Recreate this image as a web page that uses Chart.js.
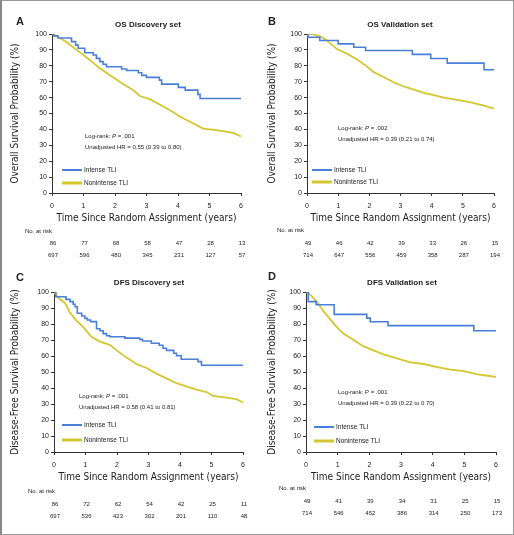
<!DOCTYPE html>
<html>
<head>
<meta charset="utf-8">
<script src="https://cdn.jsdelivr.net/npm/chart.js@4.4.0/dist/chart.umd.min.js"></script>
<style>
html, body { margin: 0; padding: 0; background: #fff; }
#fig { position: relative; width: 514px; height: 535px; overflow: hidden; }
#fig canvas { position: absolute; }
#frame { position: absolute; left: 0; top: 0; width: 514px; height: 535px; box-sizing: border-box;
         border: 1px solid #999; border-left: 2px solid #888; pointer-events: none; }
</style>
</head>
<body>
<div id="fig">
    <canvas id="chartA" style="left:0;top:0" width="257" height="258"></canvas>
    <canvas id="chartB" style="left:257px;top:0" width="257" height="258"></canvas>
    <canvas id="chartC" style="left:0;top:258px" width="257" height="277"></canvas>
    <canvas id="chartD" style="left:257px;top:258px" width="257" height="277"></canvas>
    <div id="frame"></div>
</div>
<script>
// time points for the number-at-risk table (years)
var riskTimes = [0, 1, 2, 3, 4, 5, 6];

// A - OS discovery set
var osDiscIntenseT = [0, 0.06, 0.19, 0.62, 0.75, 0.83, 1.04, 1.31, 1.41, 1.52, 1.62, 1.73, 2.21, 2.37, 2.74, 2.85, 3.0, 3.41, 3.48, 4.01, 4.23, 4.63, 4.70, 6.0];
var osDiscIntenseS = [100, 98.8, 97.5, 95.2, 93.0, 91.0, 88.2, 86.8, 84.7, 82.6, 81.0, 79.4, 78.0, 77.0, 75.6, 74.0, 72.7, 71.0, 68.5, 66.4, 64.7, 62.0, 59.4, 59.4];
var osDiscNonT = [0, 0.25, 0.46, 0.78, 1.07, 1.3, 1.52, 1.84, 2.26, 2.58, 2.79, 3.11, 3.43, 3.75, 4.07, 4.49, 4.8, 5.22, 5.76, 6.0];
var osDiscNonS = [100, 97.5, 95, 90, 85.7, 82, 78.4, 74, 68.5, 64.7, 61, 59, 55.5, 52, 48, 43.7, 40.5, 39.5, 37.8, 35.5];
var osDiscRiskIntense = [86, 77, 68, 58, 47, 28, 13];
var osDiscRiskNon = [697, 596, 480, 345, 231, 127, 57];

// B - OS validation set
var osValIntenseT = [0, 0.03, 0.41, 1.0, 1.5, 1.88, 3.38, 3.97, 4.5, 5.68, 6.0];
var osValIntenseS = [100, 98.0, 95.9, 93.8, 91.7, 89.6, 87.2, 84.6, 81.7, 77.5, 77.5];
var osValNonT = [0, 0.15, 0.43, 0.64, 0.96, 1.29, 1.61, 1.93, 2.14, 2.46, 2.79, 3.11, 3.43, 3.75, 4.07, 4.39, 4.82, 5.25, 5.68, 6.0];
var osValNonS = [100, 100, 98.5, 96, 90.5, 87.5, 84, 79.5, 76, 73, 69.5, 67, 65, 63, 61.5, 60, 58.5, 57, 55, 53];
var osValRiskIntense = [49, 46, 42, 39, 33, 26, 15];
var osValRiskNon = [714, 647, 556, 459, 358, 287, 194];

// C - DFS discovery set
var dfsDiscIntenseT = [0, 0.06, 0.38, 0.51, 0.61, 0.67, 0.74, 0.88, 0.98, 1.06, 1.16, 1.35, 1.46, 1.56, 1.67, 1.77, 2.25, 2.72, 2.81, 3.09, 3.34, 3.46, 3.57, 3.80, 3.89, 4.04, 4.57, 4.68, 6.0];
var dfsDiscIntenseS = [100, 97, 95.4, 94, 92.3, 90.8, 86.7, 85, 83.5, 82.5, 81.5, 77, 75.8, 74, 72.7, 72, 71.2, 70.4, 69.4, 68, 66.7, 64.8, 63.5, 61.7, 60.2, 58, 56.5, 54.2, 54.2];
var dfsDiscNonT = [0, 0.1, 0.35, 0.51, 0.72, 0.93, 1.19, 1.46, 1.77, 1.99, 2.3, 2.62, 2.94, 3.25, 3.57, 3.89, 4.2, 4.52, 4.84, 5.05, 5.47, 5.79, 6.0];
var dfsDiscNonS = [100, 97, 93, 87, 82, 78, 72, 69, 67, 63.5, 59, 55, 52.5, 49, 46, 43, 41, 39, 37.5, 35, 34, 33, 31];
var dfsDiscRiskIntense = [86, 72, 62, 54, 42, 25, 11];
var dfsDiscRiskNon = [697, 536, 423, 302, 201, 110, 48];

// D - DFS validation set
var dfsValIntenseT = [0, 0.07, 0.32, 0.89, 1.92, 2.03, 2.59, 5.3, 6.0];
var dfsValIntenseS = [100, 94, 92, 86, 83.7, 81.4, 79, 75.8, 75.8];
var dfsValNonT = [0, 0.15, 0.34, 0.55, 0.76, 0.97, 1.18, 1.5, 1.82, 2.13, 2.45, 2.87, 3.3, 3.72, 4.14, 4.56, 4.99, 5.41, 5.8, 6.0];
var dfsValNonS = [100, 98, 94, 88, 83, 78, 74, 70, 66, 63.5, 61, 58.5, 56, 55, 53, 51.5, 50.5, 48.5, 47.5, 47];
var dfsValRiskIntense = [49, 41, 39, 34, 31, 25, 15];
var dfsValRiskNon = [714, 546, 452, 386, 314, 250, 173];

var BLUE = '#4a7fd9';
var YELLOW = '#d4c62e';
var INK = '#222';
var AXIS = '#333';
var SANS = '"Liberation Sans", Arial, sans-serif';
var NARROW = '"Liberation Sans Narrow", "DejaVu Sans Condensed", "Liberation Sans", sans-serif';

function toPoints(t, s) {
    return t.map(function (v, i) { return { x: v, y: s[i] }; });
}

// letter, title, log-rank text, legend and number-at-risk table
var panelText = {
    id: 'panelText',
    afterDraw: function (chart, args, o) {
        var ctx = chart.ctx;
        var xs = chart.scales.x;
        ctx.save();
        ctx.fillStyle = INK;
        ctx.textBaseline = 'middle';

        ctx.textAlign = 'center';
        ctx.font = 'bold 11px ' + SANS;
        ctx.fillText(o.letter, o.letterX, o.letterY);
        ctx.font = 'bold 8px ' + SANS;
        ctx.fillText(o.title, o.titleX, 25);

        // log-rank annotation
        ctx.textAlign = 'left';
        var x = o.noteX;
        ctx.font = '6px ' + SANS;
        ctx.fillText('Log-rank: ', x, o.noteY);
        x += ctx.measureText('Log-rank: ').width;
        ctx.font = (o.italicP ? 'italic ' : '') + '6px ' + SANS;
        ctx.fillText('P', x, o.noteY);
        x += ctx.measureText('P').width;
        ctx.font = '6px ' + SANS;
        ctx.fillText(' = ' + o.pValue, x, o.noteY);
        ctx.fillText('Unadjusted HR = ' + o.hr, o.noteX, o.noteY + 11);

        // legend
        var widths = [2, 3];
        chart.data.datasets.forEach(function (ds, i) {
            var ly = o.legendY[i];
            ctx.strokeStyle = ds.borderColor;
            ctx.lineWidth = widths[i];
            ctx.beginPath();
            ctx.moveTo(o.legendX, ly);
            ctx.lineTo(o.legendX + 20, ly);
            ctx.stroke();
            ctx.fillStyle = INK;
            ctx.font = '6.5px ' + SANS;
            ctx.fillText(ds.label, o.legendX + 22, ly);
        });

        // number at risk
        ctx.font = '6px ' + SANS;
        ctx.fillText('No. at risk', o.riskLabelX, o.riskY[0]);
        ctx.textAlign = 'center';
        riskTimes.forEach(function (t, i) {
            var px = xs.getPixelForValue(t);
            ctx.fillText(String(o.riskIntense[i]), px + 1, o.riskY[1]);
            ctx.fillText(String(o.riskNon[i]), px + 1, o.riskY[2]);
        });
        ctx.restore();
    }
};

function makePanel(id, p) {
    var ctx = document.getElementById(id).getContext('2d');
    var tickGrid = { display: true, drawOnChartArea: false, drawTicks: true, tickLength: 3, color: AXIS };
    var axisBorder = { display: true, color: AXIS, width: 1 };
    return new Chart(ctx, {
        type: 'line',
        data: {
            datasets: [{
                label: 'Intense TLI',
                data: toPoints(p.intenseT, p.intenseS),
                borderColor: BLUE,
                borderWidth: 1.6,
                stepped: true,
                pointRadius: 0,
                fill: false
            }, {
                label: 'Nonintense TLI',
                data: toPoints(p.nonT, p.nonS),
                borderColor: YELLOW,
                borderWidth: 1.8,
                pointRadius: 0,
                fill: false
            }]
        },
        options: {
            responsive: false,
            animation: false,
            events: [],
            layout: {
                padding: { top: 34, left: 0, right: p.padRight, bottom: p.padBottom }
            },
            plugins: {
                legend: { display: false },
                tooltip: { enabled: false },
                title: { display: false },
                panelText: p.text
            },
            scales: {
                x: {
                    type: 'linear',
                    min: 0,
                    max: 6,
                    ticks: { stepSize: 1, padding: 6, color: INK, font: { size: 7, family: SANS } },
                    grid: tickGrid,
                    border: axisBorder,
                    title: {
                        display: true,
                        text: 'Time Since Random Assignment (years)',
                        color: INK,
                        font: { size: 10, family: NARROW },
                        padding: 0
                    },
                    afterFit: function (s) { s.height = 31; }
                },
                y: {
                    type: 'linear',
                    min: 0,
                    max: 100,
                    ticks: { stepSize: 10, padding: 2, color: INK, font: { size: 7, family: SANS } },
                    grid: tickGrid,
                    border: axisBorder,
                    title: {
                        display: true,
                        text: p.yTitle,
                        color: INK,
                        font: { size: 10, family: NARROW },
                        padding: { top: 9, bottom: 0 }
                    },
                    afterFit: function (s) { s.width = p.yWidth; }
                }
            }
        },
        plugins: [panelText]
    });
}

makePanel('chartA', {
    intenseT: osDiscIntenseT, intenseS: osDiscIntenseS, nonT: osDiscNonT, nonS: osDiscNonS,
    yTitle: 'Overall Survival Probability (%)', yWidth: 52, padRight: 16, padBottom: 34,
    text: {
        letter: 'A', letterX: 20, letterY: 22, title: 'OS Discovery set', titleX: 148,
        noteX: 85, noteY: 136, italicP: true, pValue: '.001', hr: '0.55 (0.39 to 0.80)',
        legendX: 62, legendY: [170, 183],
        riskLabelX: 25, riskY: [231, 243, 255], riskIntense: osDiscRiskIntense, riskNon: osDiscRiskNon
    }
});

makePanel('chartB', {
    intenseT: osValIntenseT, intenseS: osValIntenseS, nonT: osValNonT, nonS: osValNonS,
    yTitle: 'Overall Survival Probability (%)', yWidth: 50, padRight: 20, padBottom: 34,
    text: {
        letter: 'B', letterX: 15, letterY: 22, title: 'OS Validation set', titleX: 143,
        noteX: 81, noteY: 128, italicP: true, pValue: '.002', hr: '0.39 (0.21 to 0.74)',
        legendX: 55, legendY: [170, 182],
        riskLabelX: 20, riskY: [230, 243, 255], riskIntense: osValRiskIntense, riskNon: osValRiskNon
    }
});

makePanel('chartC', {
    intenseT: dfsDiscIntenseT, intenseS: dfsDiscIntenseS, nonT: dfsDiscNonT, nonS: dfsDiscNonS,
    yTitle: 'Disease-Free Survival Probability (%)', yWidth: 54, padRight: 14, padBottom: 52,
    text: {
        letter: 'C', letterX: 20, letterY: 20, title: 'DFS Discovery set', titleX: 149,
        noteX: 79, noteY: 138, italicP: true, pValue: '.001', hr: '0.58 (0.41 to 0.81)',
        legendX: 62, legendY: [167, 182],
        riskLabelX: 28, riskY: [233, 246, 258], riskIntense: dfsDiscRiskIntense, riskNon: dfsDiscRiskNon
    }
});

makePanel('chartD', {
    intenseT: dfsValIntenseT, intenseS: dfsValIntenseS, nonT: dfsValNonT, nonS: dfsValNonS,
    yTitle: 'Disease-Free Survival Probability (%)', yWidth: 49, padRight: 18, padBottom: 52,
    text: {
        letter: 'D', letterX: 15, letterY: 19, title: 'DFS Validation set', titleX: 145,
        noteX: 81, noteY: 134, italicP: false, pValue: '.001', hr: '0.39 (0.22 to 0.70)',
        legendX: 57, legendY: [169, 183],
        riskLabelX: 22, riskY: [230, 243, 255], riskIntense: dfsValRiskIntense, riskNon: dfsValRiskNon
    }
});
</script>
</body>
</html>
